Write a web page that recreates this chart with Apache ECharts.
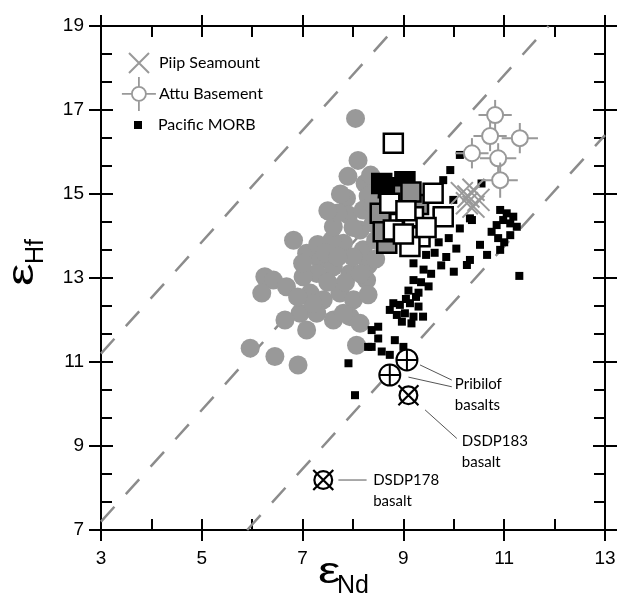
<!DOCTYPE html>
<html><head><meta charset="utf-8">
<script src="https://cdn.jsdelivr.net/npm/echarts@6/dist/echarts.min.js"></script>
<style>html,body{margin:0;padding:0;background:#fff}#c{width:619px;height:613px}</style>
</head><body><div id="c"></div>
<script>
// ---------- data (εNd, εHf) ----------
const arcNd = [8.05,8.10,7.90,8.24,7.87,8.30,7.91,8.20,8.40,8.14,7.81,7.58,6.82,7.08,7.35,7.61,7.70,8.20,8.40,8.45,8.30,7.61,7.28,7.01,6.25,6.42,6.68,6.19,7.94,8.27,7.15,7.41,7.74,8.01,6.95,7.28,6.65,7.61,7.94,8.14,7.08,8.07,5.96,6.45,6.91,7.81,7.30,7.50,7.75,8.00,8.00,7.85,7.50,7.20,6.90,8.15,7.45,8.30,7.00,8.35,8.45,7.70];
const arcHf = [16.80,15.80,15.42,15.25,14.90,14.95,14.50,14.62,14.75,14.14,13.83,13.90,13.90,13.59,13.43,14.22,14.55,13.67,14.30,13.90,13.30,13.27,13.11,13.03,13.03,12.95,12.79,12.64,13.11,12.95,12.64,12.48,12.64,12.48,12.16,12.16,12.00,12.00,12.08,11.92,11.76,11.40,11.33,11.13,10.93,12.16,13.80,14.60,15.00,14.20,13.50,12.90,12.90,12.40,12.55,13.10,13.60,12.60,13.35,15.45,13.45,13.50];

const morbNd = [7.91,8.04,8.30,8.37,8.57,8.73,9.00,8.83,8.50,8.37,8.50,8.97,9.16,8.87,9.03,9.20,9.39,8.73,8.93,9.13,9.30,9.05,9.25,8.80,9.10,9.30,9.50,9.20,9.35,9.55,
  9.40,9.20,9.75,10.00,9.45,9.62,9.85,9.55,9.70,9.90,10.05,9.66,10.12,10.32,9.99,9.79,9.93,10.12,10.55,
  10.36,10.92,11.05,11.18,10.98,11.12,11.25,10.85,10.75,10.88,11.12,10.92,10.32,10.26,10.52,10.66,11.30,11.00];
const morbHf = [10.97,10.21,11.36,11.36,11.25,11.17,11.36,11.52,11.56,11.76,11.84,11.96,11.92,12.12,12.16,12.08,12.08,12.24,12.36,12.40,12.32,12.50,12.55,12.40,12.70,12.65,12.80,12.95,12.90,13.10,
  13.20,13.35,13.30,13.15,13.55,13.60,13.50,14.05,13.85,13.95,13.70,14.58,14.18,14.42,14.86,15.33,15.57,15.93,15.25,
  14.38,14.62,14.54,14.46,14.38,14.30,14.22,14.26,14.10,13.95,14.02,13.67,13.43,13.31,13.79,13.55,13.05,13.85];

const sqBlackNd = [8.57,9.03,8.70];
const sqBlackHf = [15.25,15.29,15.15];
const sqGrayNd = [9.00,8.54,8.67,9.30,8.60,9.15];
const sqGrayHf = [14.98,14.54,13.83,14.75,14.10,15.05];
const sqWhiteNd = [8.80,9.59,8.73,8.93,9.20,9.79,9.33,9.13,8.80,9.05,9.45,9.00];
const sqWhiteHf = [16.21,15.02,14.78,14.30,14.46,14.46,13.98,13.75,14.14,14.60,14.20,14.05];

const piipNd = [10.16,10.29,10.39,10.26,10.39,10.49];
const piipHf = [15.02,14.94,15.10,14.78,14.70,14.86];

const attuNd = [10.82,10.72,11.31,10.36,10.88,10.92];
const attuHf = [16.88,16.38,16.33,15.97,15.85,15.33];
const attuNdErr = [0.33,0.33,0.36,0.33,0.36,0.35];
const attuHfErr = [0.36,0.36,0.36,0.36,0.36,0.42];

const pribNd = [9.07,8.73];
const pribHf = [11.05,10.69];
const dsdpNd = [9.10,7.41];
const dsdpHf = [10.21,8.19];

// dashed reference lines (end points)
const guideUpperNd = [3.00,8.87],  guideUpperHf = [11.20,19.00];
const guideMidNd   = [3.00,11.88], guideMidHf   = [7.20,19.00];
const guideLowNd   = [5.90,13.00], guideLowHf   = [7.00,16.40];

// annotations
const annotText = ['Pribilof\nbasalts','DSDP183\nbasalt','DSDP178\nbasalt'];
const annotAt = [[10.02,10.23],[10.16,8.87],[8.40,7.94]];
const leaderFrom = [[9.33,10.93],[9.10,10.64],[9.43,9.86],[7.71,8.19]];
const leaderTo   = [[9.96,10.57],[9.96,10.41],[10.06,9.18],[8.27,8.19]];

const xTickLabels = [3,5,7,9,11,13];
const yTickLabels = [7,9,11,13,15,17,19];

// ---------- helpers ----------
const zip = (a,b) => a.map((v,i)=>[v,b[i]]);
const GRAY = '#999999';
const X_PATH = 'path://M0,0L20,20M20,0L0,20';
const ATTU_ICON = 'path://M0,17L10,17M24,17L34,17M17,0L17,10M17,24L17,34M10,17A7,7,0,1,1,24,17A7,7,0,1,1,10,17Z';
const PLUS_CIRC = 'path://M0,10A10,10,0,1,1,20,10A10,10,0,1,1,0,10ZM10,0L10,20M0,10L20,10';
const X_CIRC = 'path://M2,10A8,8,0,1,1,18,10A8,8,0,1,1,2,10ZM1,1L19,19M19,1L1,19';

const black = {color:'#000', width:2};
function helperX(pos, inside, line){
  return {type:'value', min:0, max:10, interval:2, position:pos,
    axisLine:{show:line, onZero:false, lineStyle:black},
    axisTick:{show:true, inside:inside, length:11, lineStyle:black},
    minorTick:{show:inside, splitNumber:2, length:11, lineStyle:black},
    axisLabel:{show:false}, splitLine:{show:false}, minorSplitLine:{show:false}};
}
function helperY(pos, inside, line){
  return {type:'value', min:0, max:12, interval:2, position:pos,
    axisLine:{show:line, onZero:false, lineStyle:black},
    axisTick:{show:true, inside:inside, length:12, lineStyle:black},
    minorTick:{show:inside, splitNumber:3, length:11, lineStyle:black},
    axisLabel:{show:false}, splitLine:{show:false}, minorSplitLine:{show:false}};
}
function dashed(name, xs, ys){
  return {name:name, type:'line', data:zip(xs,ys), symbol:'none', silent:true,
    lineStyle:{color:'#8c8c8c', width:2.5, type:[20,17]}, z:1};
}
function bigSquares(name, xs, ys, fill){
  return {name:name, type:'scatter', data:zip(xs,ys), symbol:'rect', symbolSize:19,
    itemStyle:{color:fill, borderColor:'#000', borderWidth:2.5, opacity:1}, z:4};
}

const chart = echarts.init(document.getElementById('c'), null, {renderer:'canvas'});
const labelFont = {fontFamily:'Liberation Sans, Arial, sans-serif', fontSize:19, color:'#000'};

chart.setOption({
  animation:false,
  backgroundColor:'#fff',
  grid:{left:101, right:14, top:26, bottom:83, containLabel:false, outerBoundsMode:'none'},
  xAxis:[
    {type:'value', min:3, max:13, interval:1, position:'bottom',
      axisLine:{show:true, onZero:false, lineStyle:black}, axisTick:{show:false},
      splitLine:{show:false},
      axisLabel:Object.assign({margin:19, formatter:v => xTickLabels.includes(v) ? String(v) : ''}, labelFont)},
    helperX('bottom', true, false),
    helperX('bottom', false, false),
    helperX('top', true, true),
    helperX('top', false, false)
  ],
  yAxis:[
    {type:'value', min:7, max:19, interval:1, position:'left',
      axisLine:{show:true, onZero:false, lineStyle:black}, axisTick:{show:false},
      splitLine:{show:false},
      axisLabel:Object.assign({margin:17, formatter:v => yTickLabels.includes(v) ? String(v) : ''}, labelFont)},
    helperY('left', true, false),
    helperY('left', false, false),
    helperY('right', true, true),
    helperY('right', false, false)
  ],
  legend:[
    {data:[{name:'Piip Seamount', icon:X_PATH, itemStyle:{color:'rgba(0,0,0,0)', borderColor:GRAY, borderWidth:2}}],
      left:128, top:52, padding:0, itemWidth:20, itemHeight:20, selectedMode:false,
      textStyle:{fontFamily:'Lato', fontSize:16, color:'#000', padding:[0,0,0,5]}},
    {data:[{name:'Attu Basement', icon:ATTU_ICON, itemStyle:{color:'#fff', borderColor:GRAY, borderWidth:1.8}}],
      left:121, top:76, padding:0, itemWidth:34, itemHeight:34, selectedMode:false,
      textStyle:{fontFamily:'Lato', fontSize:16, color:'#000', padding:[0,0,0,-2]}},
    {data:[{name:'Pacific MORB', icon:'rect', itemStyle:{color:'#000', borderWidth:0}}],
      left:134, top:117, padding:0, itemWidth:8, itemHeight:8, selectedMode:false,
      textStyle:{fontFamily:'Lato', fontSize:16, color:'#000', padding:[0,0,0,11]}}
  ],
  series:[
    dashed('upper', guideUpperNd, guideUpperHf),
    dashed('mid', guideMidNd, guideMidHf),
    dashed('lower', guideLowNd, guideLowHf),
    {name:'Aleutian arc', type:'scatter', data:zip(arcNd,arcHf), symbol:'circle', symbolSize:19,
      itemStyle:{color:GRAY, opacity:1}, z:2},
    {name:'Pacific MORB', type:'scatter', data:zip(morbNd,morbHf), symbol:'rect', symbolSize:8,
      itemStyle:{color:'#000', opacity:1}, z:3},
    bigSquares('sqBlack', sqBlackNd, sqBlackHf, '#000'),
    bigSquares('sqGray', sqGrayNd, sqGrayHf, '#8f8f8f'),
    bigSquares('sqWhite', sqWhiteNd, sqWhiteHf, '#fff'),
    {name:'Piip Seamount', type:'scatter', data:zip(piipNd,piipHf), symbol:X_PATH, symbolSize:22,
      itemStyle:{color:'rgba(0,0,0,0)', borderColor:GRAY, borderWidth:2, opacity:1}, z:5},
    {name:'Attu Basement', type:'custom', z:6,
      data:attuNd.map((v,i)=>[v, attuHf[i], attuNdErr[i], attuHfErr[i]]),
      itemStyle:{color:'#fff', borderColor:GRAY},
      renderItem:function(params, api){
        const x = api.value(0), y = api.value(1), ex = api.value(2), ey = api.value(3);
        const c = api.coord([x,y]), l = api.coord([x-ex,y]), r = api.coord([x+ex,y]);
        const t = api.coord([x,y+ey]), b = api.coord([x,y-ey]);
        const st = {stroke:GRAY, lineWidth:2};
        return {type:'group', children:[
          {type:'line', shape:{x1:l[0], y1:c[1], x2:r[0], y2:c[1]}, style:st},
          {type:'line', shape:{x1:c[0], y1:t[1], x2:c[0], y2:b[1]}, style:st},
          {type:'circle', shape:{cx:c[0], cy:c[1], r:8}, style:{fill:'#fff', stroke:GRAY, lineWidth:2}}
        ]};
      }},
    {name:'Pribilof basalts', type:'scatter', data:zip(pribNd,pribHf), symbol:PLUS_CIRC, symbolSize:21,
      itemStyle:{color:'#fff', borderColor:'#000', borderWidth:2, opacity:1}, z:7},
    {name:'DSDP basalts', type:'scatter', data:zip(dsdpNd,dsdpHf), symbol:X_CIRC, symbolSize:20,
      itemStyle:{color:'#fff', borderColor:'#000', borderWidth:2.2, opacity:1}, z:7}
  ]
});

// annotations and axis titles
const px = p => chart.convertToPixel({xAxisIndex:0, yAxisIndex:0}, p);
const g = [];
leaderFrom.forEach((f,i)=>{
  const a = px(f), b = px(leaderTo[i]);
  g.push({type:'line', shape:{x1:a[0], y1:a[1], x2:b[0], y2:b[1]}, style:{stroke:'#555', lineWidth:1}, z:10});
});
annotText.forEach((t,i)=>{
  const p = px(annotAt[i]);
  g.push({type:'text', x:p[0], y:p[1], z:10,
    style:{text:t, font:'15px Lato', fill:'#000', align:'left', verticalAlign:'middle', lineHeight:21}});
});
const titleFont = 'Liberation Sans, Arial, sans-serif';
// x title  εNd
g.push({type:'text', x:318, y:573, scaleX:1.4, style:{text:'ε', font:'36px ' + titleFont, fill:'#000', verticalAlign:'middle'}});
g.push({type:'text', x:337, y:586, style:{text:'Nd', font:'25px ' + titleFont, fill:'#000', verticalAlign:'middle'}});
// y title  εHf (rotated)
g.push({type:'group', x:23, y:286, rotation:Math.PI/2, children:[
  {type:'text', x:0, y:0, scaleX:1.4, style:{text:'ε', font:'36px ' + titleFont, fill:'#000', verticalAlign:'middle'}},
  {type:'text', x:22, y:13, style:{text:'Hf', font:'25px ' + titleFont, fill:'#000', verticalAlign:'middle'}}
]});
chart.setOption({graphic:g});
</script></body></html>
